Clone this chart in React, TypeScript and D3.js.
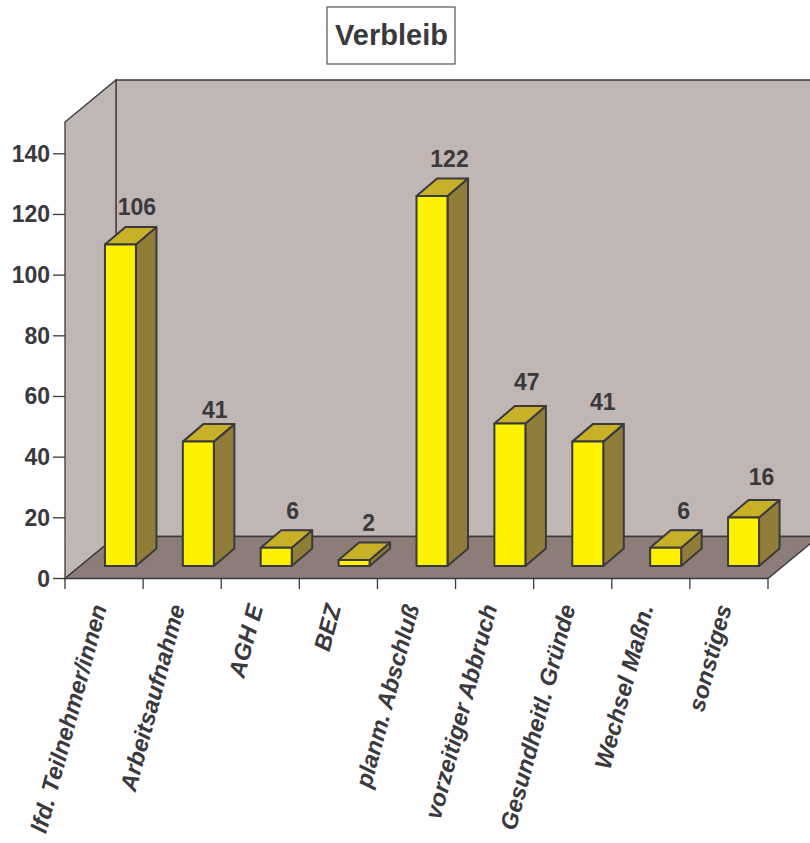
import React from "react";
import * as d3 from "d3";

const categories = [
  "lfd. Teilnehmer/innen",
  "Arbeitsaufnahme",
  "AGH E",
  "BEZ",
  "planm. Abschluß",
  "vorzeitiger Abbruch",
  "Gesundheitl. Gründe",
  "Wechsel Maßn.",
  "sonstiges",
];
const values = [106, 41, 6, 2, 122, 47, 41, 6, 16];
const yTicks = [0, 20, 40, 60, 80, 100, 120, 140];
const chartTitle = "Verbleib";

const WIDTH = 810;
const HEIGHT = 843;
const FONT = "'Liberation Sans', Arial, sans-serif";
const INK = "#3a393d";

// Oblique projection of the plot box
const left = 65;
const right = 768;
const baseY = 578.5;
const wallTop = 122;
const depthX = 51;
const depthY = -42;
// Bars stand inside the box, partway back along the depth axis
const barDepthX = 20.5;
const barDepthY = -17.5;
const barOffsetX = 16.5;
const barOffsetY = -12.5;
const barWidth = 31;

// Hand placement of the value labels relative to each bar top
const labelShiftX = [16.5, 16.5, 16.5, 14.5, 17.5, 17, 15, 18, 18];
const labelShiftY = [-11.5, -6.5, -11.5, -11.5, -11.5, -16, -14.5, -11.5, -15];

const x = d3.scaleBand<string>().domain(categories).range([left, right]);
const barX = d3.scaleBand<string>().domain(categories).range([left, right - 2]);
const y = d3.scaleLinear().domain([0, 140]).range([baseY, 153.8]);

const pts = (p: [number, number][]) => p.map((c) => c.join(",")).join(" ");

function Bar({ name, value, index }: { name: string; value: number; index: number }) {
  const cx = (barX(name) as number) + barX.bandwidth() / 2 + barOffsetX;
  const x0 = cx - barWidth / 2;
  const x1 = cx + barWidth / 2;
  const y0 = y(0) + barOffsetY;
  const y1 = y(value) + barOffsetY;
  const stroke = { stroke: INK, strokeWidth: 2, strokeLinejoin: "round" as const };
  return (
    <g>
      <polygon
        points={pts([[x1, y0], [x1 + barDepthX, y0 + barDepthY], [x1 + barDepthX, y1 + barDepthY], [x1, y1]])}
        fill="#917d3a"
        {...stroke}
      />
      <polygon
        points={pts([[x0, y1], [x0 + barDepthX, y1 + barDepthY], [x1 + barDepthX, y1 + barDepthY], [x1, y1]])}
        fill="#c8b128"
        {...stroke}
      />
      <rect x={x0} y={y1} width={barWidth} height={y0 - y1} fill="#fff200" {...stroke} />
      <text
        x={cx + labelShiftX[index]}
        y={y1 + barDepthY + labelShiftY[index]}
        textAnchor="middle"
        fontFamily={FONT}
        fontWeight="bold"
        fontSize={23}
        fill={INK}
      >
        {value}
      </text>
    </g>
  );
}

export default function App() {
  return (
    <svg
      width={WIDTH}
      height={HEIGHT}
      viewBox={`0 0 ${WIDTH} ${HEIGHT}`}
      style={{ position: "absolute", left: 0, top: 0, background: "#fff" }}
    >
      {/* back wall, side wall and floor */}
      <polygon
        points={pts([[left + depthX, wallTop + depthY], [right + depthX, wallTop + depthY], [right + depthX, baseY + depthY], [left + depthX, baseY + depthY]])}
        fill="#c0b6b3"
        stroke={INK}
        strokeWidth={1.3}
      />
      <polygon
        points={pts([[left, wallTop], [left + depthX, wallTop + depthY], [left + depthX, baseY + depthY], [left, baseY]])}
        fill="#c0b6b3"
        stroke={INK}
        strokeWidth={1.3}
      />
      <polygon
        points={pts([[left, baseY], [left + depthX, baseY + depthY], [right + depthX, baseY + depthY], [right, baseY]])}
        fill="#8c7d79"
        stroke={INK}
        strokeWidth={1.3}
      />

      {/* value axis */}
      {yTicks.map((t) => (
        <g key={t}>
          <line x1={53} x2={left} y1={y(t)} y2={y(t)} stroke={INK} strokeWidth={1.3} />
          <text
            x={50}
            y={y(t) + 8}
            textAnchor="end"
            fontFamily={FONT}
            fontWeight="bold"
            fontSize={23}
            fill={INK}
          >
            {t}
          </text>
        </g>
      ))}

      {/* category axis */}
      {[...categories.map((c) => x(c) as number), right].map((tx) => (
        <line key={tx} x1={tx} x2={tx} y1={baseY} y2={589} stroke={INK} strokeWidth={1.3} />
      ))}
      {categories.map((c) => (
        <text
          key={c}
          transform={`translate(${(x(c) as number) + 42},607) rotate(-75)`}
          textAnchor="end"
          fontFamily={FONT}
          fontWeight="bold"
          fontStyle="italic"
          fontSize={23.5}
          fill={INK}
        >
          {c}
        </text>
      ))}

      {categories.map((c, i) => (
        <Bar key={c} name={c} value={values[i]} index={i} />
      ))}

      {/* title box */}
      <rect x={327} y={7} width={128} height={57} fill="#fff" stroke="#555" strokeWidth={1.2} />
      <text
        x={391.5}
        y={45}
        textAnchor="middle"
        fontFamily={FONT}
        fontWeight="bold"
        fontSize={29}
        fill={INK}
      >
        {chartTitle}
      </text>
    </svg>
  );
}
